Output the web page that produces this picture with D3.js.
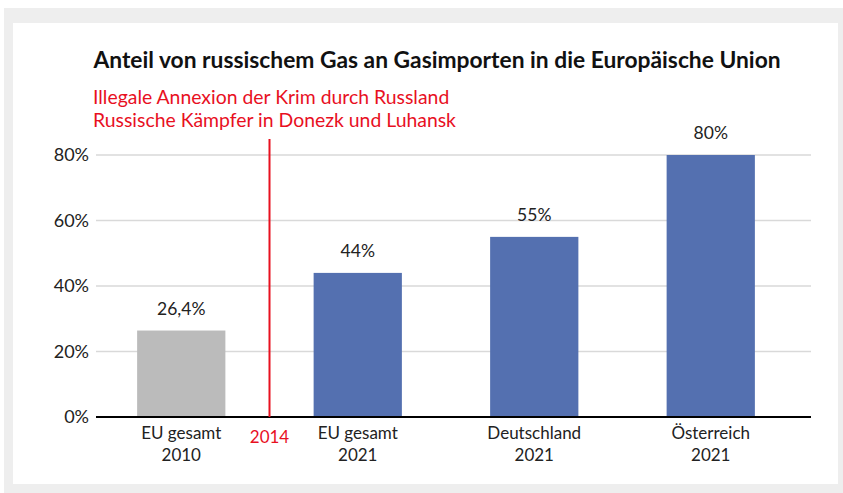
<!DOCTYPE html>
<html>
<head>
<meta charset="utf-8">
<script src="https://cdn.jsdelivr.net/npm/d3@7"></script>
<style>
  html, body { margin: 0; padding: 0; background: #fff; }
  svg { display: block; font-family: Lato, "Open Sans", sans-serif; }
</style>
</head>
<body>
<svg id="chart" width="843" height="493"></svg>
<script>
// data
const categories = ["EU gesamt|2010", "EU gesamt|2021", "Deutschland|2021", "Österreich|2021"];
const values = [26.4, 44, 55, 80];
const valueLabels = ["26,4%", "44%", "55%", "80%"];
const barColors = ["#bbbbbb", "#5470b0", "#5470b0", "#5470b0"];
const yTicks = [0, 20, 40, 60, 80];
const title = "Anteil von russischem Gas an Gasimporten in die Europäische Union";
const eventLines = ["Illegale Annexion der Krim durch Russland", "Russische Kämpfer in Donezk und Luhansk"];
const eventLabel = "2014";

const svg = d3.select("#chart");
const red = "#e8101f";

// frame
svg.append("rect").attr("x", 4).attr("y", 8).attr("width", 839).attr("height", 485).attr("fill", "#eeeeee");
svg.append("rect").attr("x", 13).attr("y", 23).attr("width", 825).attr("height", 461).attr("fill", "#ffffff");

const axisLeft = 96, axisRight = 811;
const y = d3.scaleLinear().domain([0, 80]).range([417, 155]);
const x = d3.scaleBand().domain(categories).range([93, 799])
    .paddingInner(0.5).paddingOuter(0.25);

// gridlines
svg.append("g").selectAll("line").data(yTicks.filter(d => d > 0)).join("line")
    .attr("x1", axisLeft).attr("x2", axisRight)
    .attr("y1", d => y(d)).attr("y2", d => y(d))
    .attr("stroke", "#d9d9d9").attr("stroke-width", 1.5);

// y axis labels
const yAxis = svg.append("g")
    .attr("transform", `translate(${axisLeft},0)`)
    .call(d3.axisLeft(y).tickValues(yTicks).tickFormat(d => d + "%").tickSize(0).tickPadding(7));
yAxis.select(".domain").remove();
yAxis.selectAll("text").attr("font-size", 18).attr("fill", "#222").attr("font-family", "Lato, sans-serif");

// bars
svg.append("g").selectAll("rect").data(categories).join("rect")
    .attr("x", d => x(d))
    .attr("y", (d, i) => y(values[i]))
    .attr("width", x.bandwidth())
    .attr("height", (d, i) => y(0) - y(values[i]))
    .attr("fill", (d, i) => barColors[i]);

// value labels
svg.append("g").selectAll("text").data(categories).join("text")
    .attr("x", d => x(d) + x.bandwidth() / 2)
    .attr("y", (d, i) => y(values[i]) - 16)
    .attr("text-anchor", "middle")
    .attr("font-size", 17.5).attr("fill", "#222")
    .text((d, i) => valueLabels[i]);

// x axis line
svg.append("line")
    .attr("x1", axisLeft).attr("x2", axisRight)
    .attr("y1", y(0)).attr("y2", y(0))
    .attr("stroke", "#000").attr("stroke-width", 2);

// category labels (two lines)
const catG = svg.append("g").selectAll("text").data(categories).join("text")
    .attr("text-anchor", "middle")
    .attr("font-size", 17).attr("fill", "#222");
catG.each(function (d) {
    const parts = d.split("|");
    const cx = x(d) + x.bandwidth() / 2;
    d3.select(this).selectAll("tspan").data(parts).join("tspan")
        .attr("x", cx)
        .attr("y", (p, i) => 439 + i * 22)
        .text(p => p);
});

// 2014 marker between first and second category
const c0 = x(categories[0]) + x.bandwidth() / 2;
const c1 = x(categories[1]) + x.bandwidth() / 2;
const xm = (c0 + c1) / 2;
svg.append("line")
    .attr("x1", xm).attr("x2", xm)
    .attr("y1", 139).attr("y2", y(0))
    .attr("stroke", red).attr("stroke-width", 2);
svg.append("text")
    .attr("x", xm).attr("y", 443)
    .attr("text-anchor", "middle")
    .attr("font-size", 17).attr("fill", red)
    .text(eventLabel);

// title
svg.append("text")
    .attr("x", 437).attr("y", 68)
    .attr("text-anchor", "middle")
    .attr("font-size", 22.8).attr("font-weight", "bold").attr("fill", "#111")
    .text(title);

// event text
svg.append("g").selectAll("text").data(eventLines).join("text")
    .attr("x", 93)
    .attr("y", (d, i) => 104 + i * 23)
    .attr("font-size", 19.4).attr("fill", red)
    .text(d => d);
</script>
</body>
</html>
